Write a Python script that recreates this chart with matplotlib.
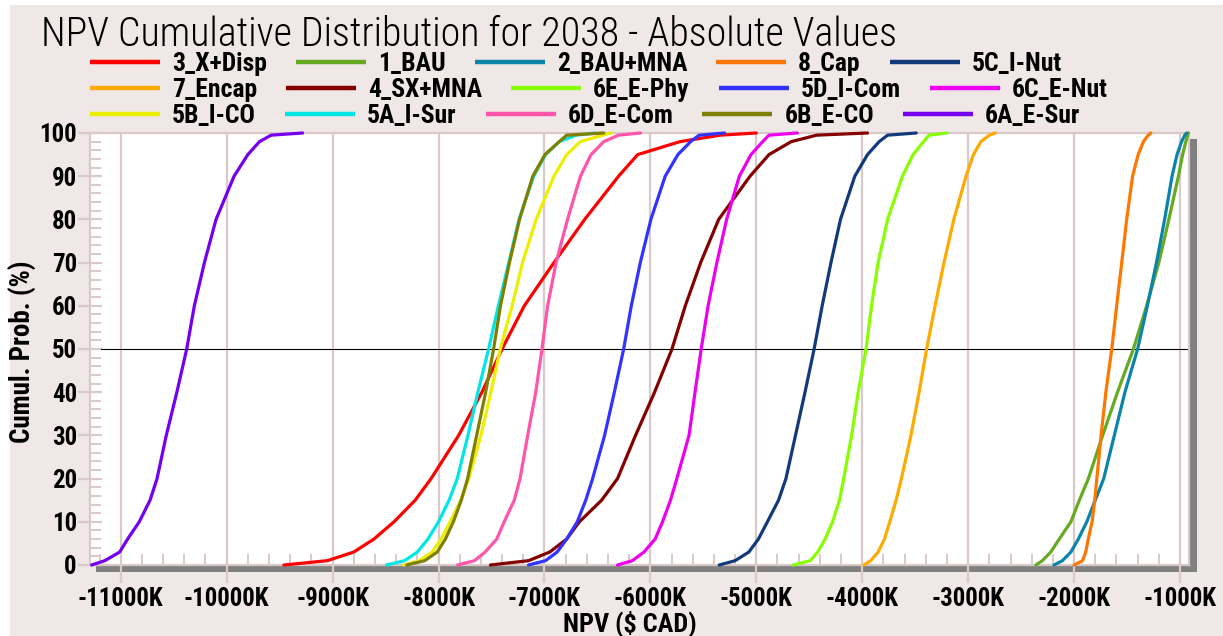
import matplotlib
matplotlib.use("Agg")
import matplotlib.pyplot as plt
from matplotlib.lines import Line2D
from matplotlib.patches import Rectangle
from matplotlib.ticker import FixedLocator, MultipleLocator, FuncFormatter

# ---------------------------------------------------------------------------
# Data: NPV (thousands of CAD) reached at each cumulative probability level
# ---------------------------------------------------------------------------
cum_prob = [0, 1, 3, 6, 10, 15, 20, 30, 40, 50, 60, 70, 80, 90, 95, 98, 99.5, 100]

series_names = ["3_X+Disp", "1_BAU", "2_BAU+MNA", "8_Cap", "5C_I-Nut",
                "7_Encap", "4_SX+MNA", "6E_E-Phy", "5D_I-Com", "6C_E-Nut",
                "5B_I-CO", "5A_I-Sur", "6D_E-Com", "6B_E-CO", "6A_E-Sur"]

series_colors = ["#FF0000", "#66AA22", "#0A84A8", "#FF7700", "#123A7A",
                 "#FFAA00", "#840000", "#88FF00", "#3333FF", "#EE00EE",
                 "#EEEE00", "#00E6E6", "#FF55AA", "#808000", "#7400EE"]

npv_3_x_disp = [-9460, -9050, -8800, -8610, -8420, -8220, -8070, -7810, -7590, -7400,
                -7190, -6910, -6620, -6300, -6120, -5720, -5340, -5000]
npv_1_bau = [-2360, -2300, -2220, -2140, -2030, -1950, -1865, -1730, -1590, -1440,
             -1315, -1200, -1105, -1015, -975, -945, -928, -920]
npv_2_bau_mna = [-2190, -2110, -2030, -1960, -1880, -1800, -1720, -1620, -1520, -1400,
                 -1308, -1222, -1145, -1075, -1028, -985, -955, -937]
npv_8_cap = [-2000, -1920, -1890, -1866, -1830, -1805, -1785, -1745, -1700, -1644,
             -1598, -1550, -1503, -1448, -1395, -1345, -1300, -1275]
npv_5c_i_nut = [-5350, -5200, -5070, -4980, -4895, -4790, -4720, -4630, -4540, -4454,
                -4378, -4295, -4205, -4070, -3950, -3840, -3760, -3490]
npv_7_encap = [-3985, -3920, -3850, -3790, -3740, -3680, -3630, -3540, -3463, -3392,
               -3312, -3228, -3135, -3020, -2950, -2880, -2800, -2744]
npv_4_sx_mna = [-7510, -7150, -6950, -6790, -6670, -6460, -6310, -6140, -5960, -5796,
                -5670, -5525, -5355, -5059, -4880, -4670, -4430, -3950]
npv_6e_e_phy = [-4650, -4490, -4420, -4350, -4280, -4215, -4175, -4100, -4038, -3964,
                -3912, -3850, -3760, -3620, -3520, -3420, -3370, -3200]
npv_5d_i_com = [-7150, -6990, -6880, -6790, -6690, -6610, -6545, -6432, -6340, -6252,
                -6180, -6095, -5995, -5860, -5740, -5620, -5540, -5300]
npv_6c_e_nut = [-6310, -6170, -6060, -5955, -5885, -5810, -5750, -5635, -5578, -5520,
                -5455, -5372, -5280, -5160, -5050, -4940, -4880, -4613]
npv_5b_i_co = [-8330, -8180, -8060, -7975, -7890, -7790, -7715, -7600, -7505, -7417,
               -7305, -7207, -7078, -6910, -6790, -6661, -6450, -6370]
npv_5a_i_sur = [-8490, -8320, -8200, -8100, -8000, -7900, -7823, -7722, -7628, -7527,
                -7435, -7336, -7240, -7102, -6990, -6860, -6700, -6520]
npv_6d_e_com = [-7820, -7660, -7560, -7450, -7380, -7285, -7230, -7158, -7082, -7023,
                -6970, -6890, -6782, -6660, -6560, -6440, -6300, -6093]
npv_6b_e_co = [-8300, -8130, -8012, -7935, -7860, -7785, -7725, -7640, -7555, -7480,
               -7415, -7330, -7235, -7110, -6995, -6860, -6790, -6440]
npv_6a_e_sur = [-11275, -11150, -11010, -10935, -10825, -10723, -10657, -10570, -10470, -10377,
                -10305, -10210, -10100, -9930, -9800, -9690, -9580, -9283]

series_values = [npv_3_x_disp, npv_1_bau, npv_2_bau_mna, npv_8_cap, npv_5c_i_nut,
                 npv_7_encap, npv_4_sx_mna, npv_6e_e_phy, npv_5d_i_com, npv_6c_e_nut,
                 npv_5b_i_co, npv_5a_i_sur, npv_6d_e_com, npv_6b_e_co, npv_6a_e_sur]

x_ticks = [-11000, -10000, -9000, -8000, -7000, -6000, -5000, -4000, -3000, -2000, -1000]
y_ticks = [0, 10, 20, 30, 40, 50, 60, 70, 80, 90, 100]
median_level = 50

title_text = "NPV Cumulative Distribution for 2038 - Absolute Values"
x_label = r"NPV (\$ CAD)"
y_label = "Cumul. Prob. (%)"

# ---------------------------------------------------------------------------
# Styling / layout
# ---------------------------------------------------------------------------
W, H, DPI = 1223, 636, 100
PANEL = "#F0E7E7"
FRAME = "#D9C9C9"
SHADOW = "#808080"
plt.rcParams["font.family"] = ["Liberation Sans Narrow", "Roboto Condensed",
                               "DejaVu Sans Condensed", "Liberation Sans", "DejaVu Sans"]

# axes box in pixels (from the top-left corner of the figure)
L, R, T, B = 90, 1189, 133, 565


def fig_x(px):
    return px / W


def fig_y(py):
    return 1 - py / H


fig = plt.figure(figsize=(W / DPI, H / DPI), dpi=DPI, facecolor="white")
fig.canvas.draw()
renderer = fig.canvas.get_renderer()


def text_width(s, size, weight):
    t = fig.text(0, 0, s, fontsize=size, fontweight=weight)
    w = t.get_window_extent(renderer).width
    t.remove()
    return w


# scale all bold labels so that the available face takes the same room as the
# narrow bold face the layout is designed around (a legend label spans ~95 px)
k = 95.0 / text_width(series_names[0], 18, "bold")
fs_legend = 18 * k
fs_tick = 17.5 * k
fs_ylabel = 19 * k
fs_xlabel = 18.5 * k

# pink panel behind everything
fig.add_artist(Rectangle((fig_x(10), 0), 1 - fig_x(10), fig_y(5), transform=fig.transFigure,
                         facecolor=PANEL, edgecolor="none", zorder=-3))
# drop shadow of the plotting area
fig.add_artist(Rectangle((fig_x(L + 6), fig_y(B + 7)), (R - L + 2) / W, (B - T + 1) / H,
                         transform=fig.transFigure, facecolor=SHADOW, edgecolor="none",
                         zorder=-2))

ax = fig.add_axes([fig_x(L), fig_y(B), (R - L) / W, (B - T) / H])
ax.set_facecolor("white")
ax.set_axisbelow(True)

for name, color, vals in zip(series_names, series_colors, series_values):
    ax.plot(vals, cum_prob, color=color, lw=2.3, solid_joinstyle="round",
            solid_capstyle="round", clip_on=False, zorder=3, label=name)

ax.axhline(median_level, xmin=0.01, xmax=1.0, color="black", lw=0.8, zorder=2)

ax.set_xlim(-11290, -915)
ax.set_ylim(0, 100)

ax.xaxis.set_major_locator(FixedLocator(x_ticks))
ax.xaxis.set_minor_locator(MultipleLocator(200))
ax.yaxis.set_major_locator(FixedLocator(y_ticks))
ax.yaxis.set_minor_locator(MultipleLocator(2))
ax.xaxis.set_major_formatter(FuncFormatter(lambda v, _: f"{int(round(v))}K"))
ax.yaxis.set_major_formatter(FuncFormatter(lambda v, _: f"{int(round(v))}"))

ax.grid(axis="x", which="major", color=FRAME, lw=1.6)
ax.tick_params(axis="x", which="major", direction="out", length=13, width=1.6,
               color=FRAME, pad=2.5, labelsize=fs_tick)
ax.tick_params(axis="x", which="minor", direction="in", length=8, width=1.4, color=FRAME)
ax.tick_params(axis="y", which="major", direction="inout", length=17, width=1.6,
               color=FRAME, pad=1, labelsize=fs_tick)
ax.tick_params(axis="y", which="minor", direction="in", length=8, width=1.4, color=FRAME)
for lab in ax.get_xticklabels() + ax.get_yticklabels():
    lab.set_fontweight("bold")

for sp in ax.spines.values():
    sp.set_color(FRAME)
    sp.set_linewidth(1.6)

ax.set_xlabel(x_label, fontsize=fs_xlabel, fontweight="bold", va="center", ha="center")
ax.xaxis.set_label_coords((630 - L) / (R - L), -(624 - B) / (B - T))
ax.set_ylabel(y_label, fontsize=fs_ylabel, fontweight="bold", va="center", ha="center")
ax.yaxis.set_label_coords((23 - L) / (R - L), (B - 352) / (B - T))

# title, fitted to its span across the top of the panel
title = fig.text(fig_x(41), fig_y(46), title_text, ha="left", va="baseline", fontsize=30,
                 fontweight="light", color="black")
tw = title.get_window_extent(renderer).width
title.set_fontsize(30 * (898 - 41) / tw)

# legend laid out as flowing rows of five entries
row_y = [62, 88, 114]
line_len, label_gap, entry_gap = 70, 12, 29
for r, y in enumerate(row_y):
    x = 90
    for c in range(5):
        i = r * 5 + c
        fig.add_artist(Line2D([fig_x(x), fig_x(x + line_len)], [fig_y(y), fig_y(y)],
                              transform=fig.transFigure, color=series_colors[i], lw=3.2,
                              solid_capstyle="butt"))
        t = fig.text(fig_x(x + line_len + label_gap), fig_y(y + 2), series_names[i],
                     ha="left", va="center", fontsize=fs_legend, fontweight="bold",
                     color="black")
        x = x + line_len + label_gap + t.get_window_extent(renderer).width + entry_gap

fig.savefig("out.png", dpi=DPI, facecolor=fig.get_facecolor())
